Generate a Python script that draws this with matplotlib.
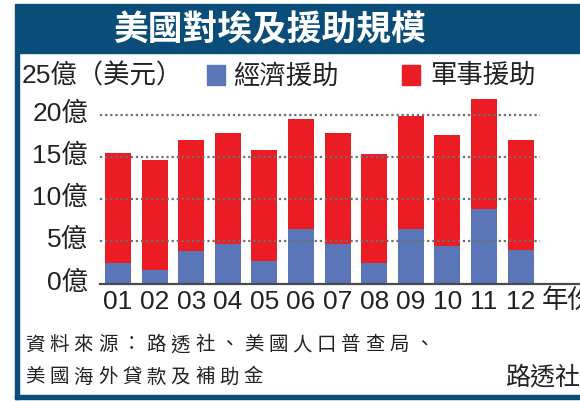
import matplotlib.pyplot as plt
import numpy as np
from matplotlib.patches import Rectangle
from matplotlib.transforms import ScaledTranslation

plt.rcParams['font.family'] = ['Liberation Sans', 'Noto Sans CJK TC', 'DejaVu Sans']

years = ['01', '02', '03', '04', '05', '06', '07', '08', '09', '10', '11', '12']
economic = [2.45, 1.6, 3.9, 4.65, 2.7, 6.5, 4.65, 2.45, 6.5, 4.4, 8.85, 4.0]
military = [13.05, 13.0, 13.1, 13.15, 13.1, 13.0, 13.15, 12.95, 13.3, 13.2, 13.05, 13.0]
yticks = [0, 5, 10, 15, 20]
ytick_labels = ['0億', '5億', '10億', '15億', '20億']

NAVY = '#0a4d78'
BLUE = '#5a76b8'
RED = '#ec1c24'
TXT = '#222222'
W, H = 580, 402


def fx(px):
    return px / W


def fy(py):
    return 1 - py / H


fig = plt.figure(figsize=(W / 100, H / 100), dpi=100)

# frame: title bar, left and bottom border
for (x0, y0, w, h) in [(15, 54, W, 49), (15, 400, 4, 346), (15, 400, W, 4)]:
    fig.patches.append(Rectangle((fx(x0), fy(y0)), w / W, h / H,
                                 color=NAVY, transform=fig.transFigure))
fig.text(fx(270), fy(30), '美國對埃及援助規模', color='white', fontsize=25,
         fontweight='bold', ha='center', va='center')

ax = fig.add_axes([fx(100), fy(284.5), 440 / W, 211 / H])
x = np.arange(len(years))
ax.bar(x, economic, width=0.71, color=BLUE, zorder=2)
ax.bar(x, military, width=0.71, bottom=economic, color=RED, zorder=2)
ax.set_xlim(-0.49, 11.53)
ax.set_ylim(0, 25)

for v in yticks[1:]:
    ax.axhline(v, color='#6e6e6e', lw=1.6, ls=(0, (1, 1.3)), zorder=3)
ax.axhline(0, xmin=0, xmax=480 / 440, color='#4a4a4a', lw=1.6,
           clip_on=False, zorder=4)

for s in ax.spines.values():
    s.set_visible(False)
ax.set_yticks([])
ax.set_xticks(x, years, fontsize=19, color=TXT)
ax.tick_params(axis='x', length=0, pad=4)

# y labels sit a touch above their gridlines
up = ScaledTranslation(0, 2 / 100, fig.dpi_scale_trans)
for v, lab in zip(yticks, ytick_labels):
    ax.text(-0.82, v, lab, transform=ax.transData + up, fontsize=19,
            color=TXT, ha='right', va='center')

fig.text(fx(22), fy(76), '25億（美元）', fontsize=19, color=TXT,
         ha='left', va='center')
fig.text(fx(542), fy(301), '年份', fontsize=19, color=TXT,
         ha='left', va='center')

# legend
fig.patches.append(Rectangle((fx(207), fy(86)), 18 / W, 20 / H,
                             color=BLUE, transform=fig.transFigure))
fig.text(fx(233), fy(76), '經濟援助', fontsize=19, color=TXT,
         ha='left', va='center')
fig.patches.append(Rectangle((fx(402), fy(86)), 18 / W, 20 / H,
                             color=RED, transform=fig.transFigure))
fig.text(fx(430), fy(76), '軍事援助', fontsize=19, color=TXT,
         ha='left', va='center')


def spaced(s, x0, y, step, size):
    for i, ch in enumerate(s):
        fig.text(fx(x0 + i * step), fy(y), ch, fontsize=size,
                 family='Noto Sans CJK TC', color=TXT,
                 ha='left', va='center')


spaced('資料來源：路透社、美國人口普查局、', 25, 345, 24.3, 14)
spaced('美國海外貸款及補助金', 25, 377, 24.3, 14)
fig.text(fx(505), fy(377), '路透社', fontsize=18, color=TXT,
         ha='left', va='center')

fig.savefig('out.png', dpi=100)
